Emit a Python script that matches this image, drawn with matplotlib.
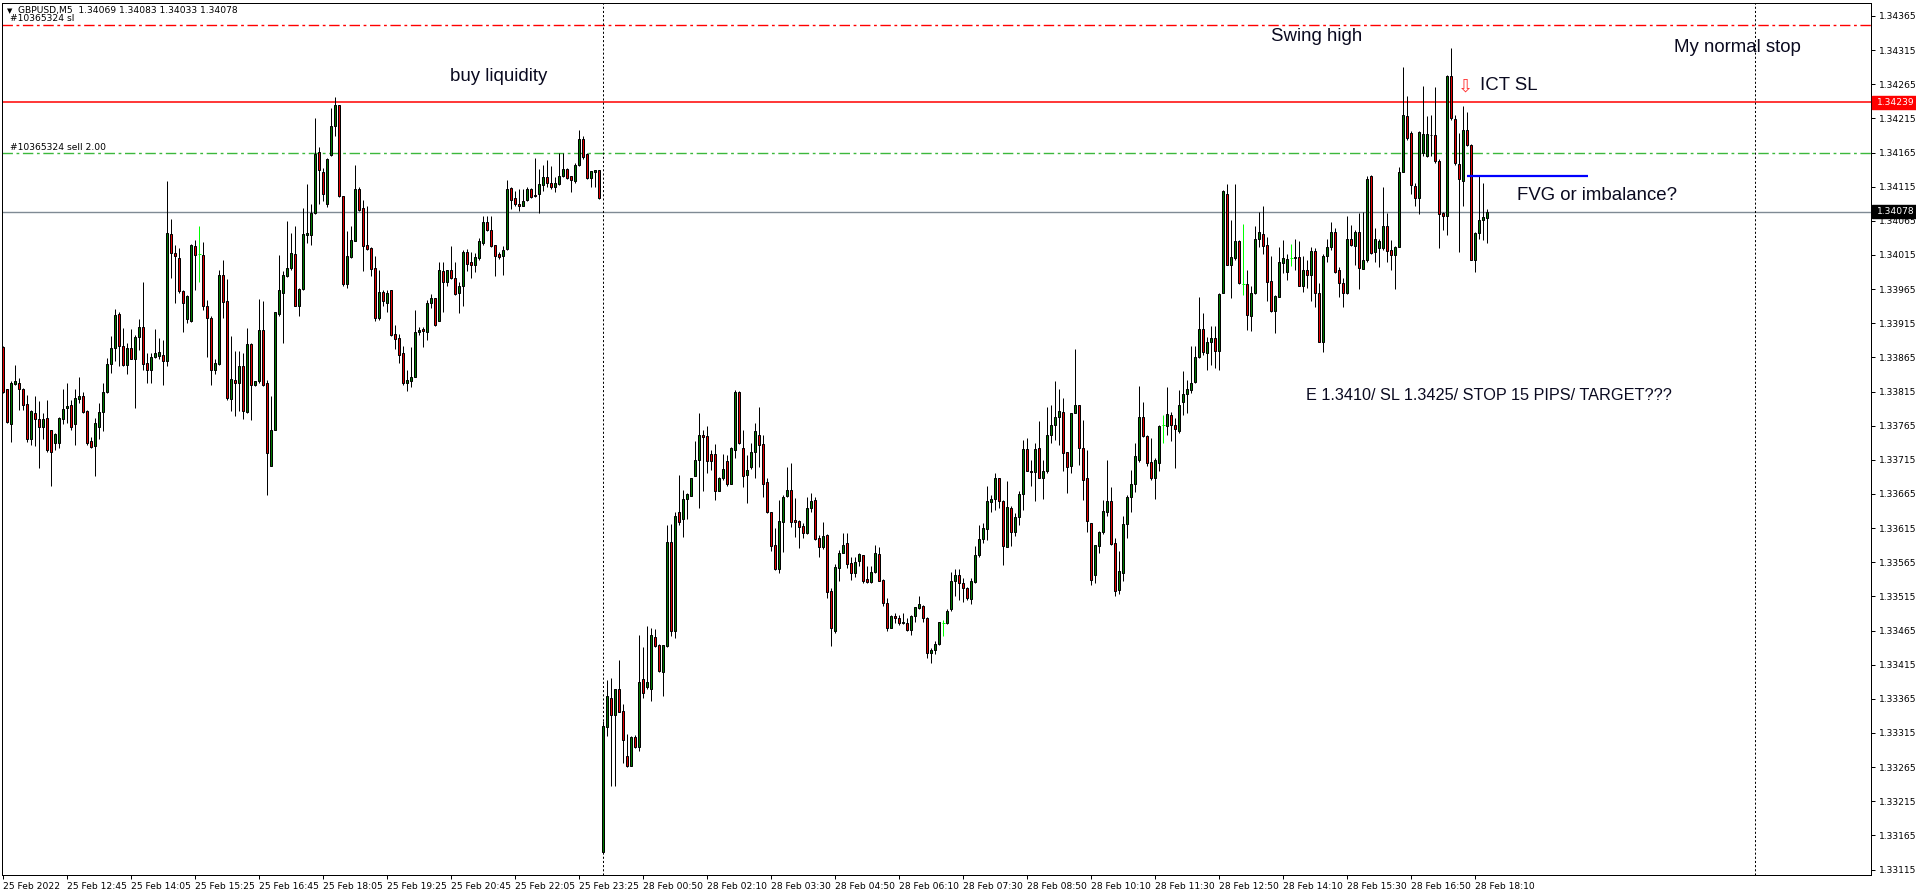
import numpy as np
import matplotlib
matplotlib.use("Agg")
import matplotlib.pyplot as plt
from matplotlib.patches import Rectangle
from matplotlib.transforms import blended_transform_factory

plt.rcParams['lines.scale_dashes'] = False

# GBPUSD M5 bars, prices in points above 1.33000 (1 point = 0.00001)
# 25 Feb 11:25 .. 23:50 (bars 0-149), 28 Feb 00:00 .. 18:25 (bars 150-371)
opens = [
    880, 818, 767, 826, 827, 818, 797, 746, 784, 775,
    763, 776, 758, 739, 739, 775, 791, 796, 767, 804,
    809, 786, 742, 735, 763, 785, 814, 856, 879, 929,
    881, 854, 879, 863, 895, 909, 857, 847, 866, 867,
    869, 859, 1045, 1018, 1011, 962, 921, 918, 1028, 1016,
    1015, 941, 923, 846, 856, 985, 947, 804, 832, 827,
    853, 785, 884, 824, 830, 905, 827, 706, 759, 928,
    960, 984, 996, 1017, 941,
    965, 1044, 1044, 1076, 1166, 1137, 1089, 1161, 1204, 1235,
    1101, 973, 1012, 1036, 1111, 1084, 1029, 1025, 996, 922,
    961, 945, 963, 899, 893, 871, 827, 831, 837, 902,
    907, 902, 945, 952, 919, 991, 976, 993, 981, 959,
    969, 1019, 1004, 1000, 1011, 1033, 1063, 1051, 1029, 1017,
    1013, 1024, 1113, 1098, 1090, 1087, 1095, 1112, 1103, 1105,
    1117, 1129, 1120, 1114, 1119, 1130, 1141, 1131, 1124, 1147,
    1185, 1163, 1128, 1137, 1139,
    141, 324, 366, 342, 379, 347, 281, 267, 309, 295,
    394, 382, 380, 455, 444, 405, 443, 594, 465, 638,
    628, 657, 662, 692, 715, 751, 750, 723, 724, 670,
    688, 713, 680, 730, 814, 732, 693, 705, 727, 751,
    738, 682, 638, 591, 555, 624, 662, 671, 627, 626,
    618, 608, 644, 656, 600, 587, 605, 523, 464, 556,
    579, 593, 564, 549, 567, 576, 540, 536, 550, 577,
    539, 505, 469, 487, 484, 476,
    476, 466, 486, 498, 501, 483, 432, 436, 445, 476,
    476, 496, 538, 547, 534, 528, 511, 536, 576, 599,
    614, 653, 657, 688, 655, 588, 644, 610, 632, 665,
    731, 699, 697, 733, 688, 698, 751, 766, 777, 785,
    726, 706, 783, 795, 733, 689, 622, 547, 589, 609,
    639, 655, 593, 525, 549, 621, 660, 679, 715, 777,
    750, 712, 689, 711, 766, 765, 781, 766, 757, 800,
    812, 817, 829, 866,
    907, 872, 888, 893, 875, 960, 1104, 1000, 1010, 1036,
    972, 972, 926, 959, 1038, 1046, 1030, 977, 933, 954,
    1003, 990, 1010, 1012, 1012, 969, 993, 986, 1021, 960,
    888, 1014, 1026, 1049, 993, 974, 959, 1038, 1028, 1049,
    995, 1008, 1131, 1020, 1025, 1025, 1057, 1022, 1015, 1027,
    1137, 1219, 1194, 1116, 1098, 1165, 1160, 1191, 1190, 1153,
    1076, 1072, 1277, 1214, 1148, 1123, 1198, 1176, 1008, 1047,
    1066, 1069,
]
highs = [
    881, 819, 830, 854, 835, 820, 810, 788, 809, 801,
    784, 802, 759, 754, 777, 818, 828, 803, 818, 837,
    815, 788, 749, 776, 798, 828, 864, 896, 936, 932,
    908, 886, 907, 898, 921, 976, 871, 871, 907, 894,
    891, 1124, 1067, 1030, 1025, 964, 956, 1031, 1037, 1058,
    1034, 949, 926, 862, 993, 1008, 980, 896, 874, 874,
    871, 908, 886, 831, 951, 947, 832, 808, 932, 1015,
    991, 1065, 1047, 1057, 967,
    1084, 1119, 1089, 1215, 1173, 1142, 1157, 1230, 1247, 1235,
    1102, 1050, 1058, 1147, 1115, 1096, 1086, 1027, 1013, 993,
    964, 964, 964, 913, 899, 881, 847, 880, 934, 910,
    910, 949, 958, 952, 1004, 1004, 993, 1028, 1004, 976,
    1023, 1024, 1019, 1018, 1040, 1072, 1072, 1072, 1030, 1020,
    1028, 1125, 1115, 1108, 1111, 1112, 1114, 1113, 1157, 1141,
    1147, 1154, 1145, 1129, 1165, 1164, 1142, 1131, 1149, 1198,
    1189, 1165, 1138, 1140, 1140,
    332, 393, 395, 380, 422, 358, 314, 311, 312, 459,
    441, 471, 468, 467, 446, 444, 620, 621, 638, 693,
    671, 666, 689, 742, 783, 759, 765, 729, 738, 690,
    723, 722, 734, 817, 816, 759, 722, 739, 769, 793,
    752, 689, 639, 615, 656, 663, 704, 710, 659, 627,
    622, 660, 667, 661, 605, 624, 607, 527, 562, 583,
    608, 608, 573, 573, 579, 576, 560, 559, 590, 588,
    540, 512, 488, 490, 488, 490,
    483, 488, 500, 515, 503, 485, 440, 450, 478, 481,
    496, 550, 555, 555, 542, 529, 542, 589, 620, 622,
    677, 663, 696, 688, 656, 684, 647, 637, 669, 744,
    747, 715, 739, 772, 715, 793, 795, 830, 818, 806,
    727, 783, 877, 795, 774, 729, 623, 591, 611, 656,
    715, 675, 600, 581, 633, 663, 700, 739, 823, 800,
    751, 747, 717, 766, 780, 822, 785, 776, 817, 845,
    832, 882, 881, 954,
    930, 895, 911, 911, 959, 1110, 1119, 1066, 1119, 1037,
    1061, 993, 969, 1057, 1078, 1086, 1042, 1013, 956, 1027,
    1037, 1017, 1031, 1039, 1035, 1014, 1008, 1027, 1025, 974,
    1017, 1039, 1064, 1054, 998, 981, 1072, 1059, 1052, 1076,
    1078, 1130, 1132, 1054, 1039, 1115, 1076, 1037, 1028, 1144,
    1290, 1248, 1196, 1120, 1196, 1262, 1218, 1220, 1261, 1156,
    1078, 1279, 1318, 1220, 1193, 1233, 1225, 1177, 1048, 1130,
    1121, 1083,
]
lows = [
    813, 769, 741, 825, 788, 788, 741, 736, 735, 703,
    745, 727, 676, 730, 732, 767, 769, 759, 737, 798,
    784, 737, 732, 691, 745, 757, 813, 842, 859, 852,
    852, 841, 862, 791, 876, 847, 828, 828, 864, 862,
    825, 852, 981, 945, 959, 902, 916, 917, 964, 975,
    935, 866, 824, 840, 854, 923, 803, 786, 779, 786,
    775, 784, 774, 823, 828, 823, 664, 706, 759, 925,
    886, 983, 993, 941, 925,
    964, 1033, 1030, 1075, 1089, 1094, 1085, 1160, 1189, 1100,
    970, 966, 1011, 1035, 1080, 992, 1023, 984, 918, 920,
    940, 931, 897, 878, 857, 825, 816, 821, 836, 898,
    880, 891, 938, 911, 919, 931, 969, 980, 957, 930,
    941, 991, 981, 990, 1008, 1030, 1050, 1026, 984, 1009,
    986, 1023, 1082, 1086, 1079, 1086, 1094, 1098, 1100, 1076,
    1108, 1115, 1111, 1107, 1118, 1129, 1126, 1107, 1121, 1146,
    1156, 1126, 1114, 1114, 1097,
    140, 310, 237, 237, 345, 271, 265, 267, 293, 289,
    366, 380, 362, 441, 405, 369, 441, 457, 454, 620,
    602, 628, 662, 691, 645, 670, 696, 700, 656, 670,
    686, 677, 680, 717, 738, 675, 652, 702, 689, 705,
    661, 637, 582, 554, 549, 580, 661, 617, 602, 586,
    600, 607, 638, 597, 573, 585, 513, 443, 462, 538,
    578, 557, 539, 543, 559, 534, 535, 534, 549, 537,
    501, 464, 468, 476, 473, 474,
    465, 459, 478, 496, 478, 425, 418, 430, 444, 457,
    475, 494, 516, 510, 507, 510, 504, 535, 572, 593,
    598, 638, 641, 644, 561, 587, 589, 604, 620, 641,
    698, 676, 655, 688, 657, 696, 739, 744, 737, 699,
    667, 696, 783, 707, 656, 610, 532, 535, 578, 607,
    633, 590, 515, 518, 537, 600, 638, 668, 712, 748,
    706, 686, 657, 698, 739, 751, 743, 703, 755, 781,
    783, 813, 827, 864,
    869, 847, 854, 849, 847, 959, 1000, 952, 1008, 973,
    956, 905, 903, 958, 1027, 1017, 948, 932, 900, 953,
    988, 979, 999, 993, 969, 961, 966, 948, 939, 887,
    873, 1005, 1023, 988, 954, 939, 958, 1028, 1000, 965,
    994, 1005, 1017, 1005, 998, 1023, 1005, 993, 965, 1026,
    1136, 1183, 1104, 1087, 1075, 1160, 1158, 1160, 1150, 1025,
    1052, 1044, 1213, 1147, 1020, 1086, 1175, 1007, 990, 1038,
    1037, 1033,
]
closes = [
    815, 771, 828, 831, 818, 796, 746, 786, 775, 763,
    775, 729, 727, 753, 776, 790, 794, 763, 806, 809,
    785, 740, 734, 769, 785, 814, 856, 879, 927, 881,
    854, 879, 863, 895, 909, 856, 847, 866, 871, 873,
    859, 1047, 1018, 1013, 962, 945, 955, 1029, 1015, 1016,
    941, 923, 846, 857, 985, 946, 806, 833, 828, 853,
    786, 884, 825, 831, 905, 825, 725, 758, 931, 964,
    985, 996, 1018, 941, 965,
    1045, 1047, 1076, 1163, 1139, 1104, 1156, 1204, 1235, 1101,
    972, 1013, 1037, 1111, 1081, 1028, 1024, 995, 922, 961,
    947, 959, 898, 892, 869, 827, 832, 836, 902, 905,
    903, 945, 952, 912, 993, 976, 993, 981, 958, 970,
    1019, 1002, 1000, 1012, 1035, 1063, 1051, 1028, 1014, 1012,
    1022, 1112, 1096, 1090, 1086, 1094, 1112, 1100, 1101, 1119,
    1129, 1120, 1115, 1120, 1131, 1141, 1127, 1125, 1147, 1185,
    1158, 1127, 1138, 1139, 1098,
    325, 369, 341, 379, 346, 304, 267, 309, 295, 389,
    373, 389, 458, 442, 406, 444, 595, 465, 633, 624,
    657, 665, 688, 715, 752, 749, 714, 714, 670, 689,
    702, 680, 732, 814, 740, 692, 700, 726, 757, 737,
    679, 638, 589, 555, 625, 661, 671, 624, 624, 617,
    608, 644, 655, 599, 587, 604, 521, 468, 558, 579,
    590, 562, 549, 566, 577, 538, 536, 551, 578, 538,
    506, 469, 487, 484, 476, 477,
    466, 487, 499, 504, 483, 432, 436, 445, 477, 476,
    494, 538, 547, 534, 528, 512, 538, 576, 599, 615,
    655, 658, 688, 654, 589, 646, 610, 632, 665, 731,
    699, 697, 731, 689, 699, 752, 766, 778, 787, 725,
    705, 783, 795, 733, 686, 625, 539, 590, 609, 640,
    655, 592, 523, 552, 621, 661, 679, 721, 777, 750,
    710, 688, 715, 765, 766, 782, 766, 760, 795, 812,
    819, 827, 865, 906,
    873, 888, 894, 875, 958, 1109, 1000, 1012, 1036, 974,
    972, 927, 960, 1038, 1048, 1028, 976, 933, 955, 1004,
    1010, 1009, 1010, 1011, 970, 993, 986, 1021, 959, 887,
    1014, 1027, 1048, 990, 974, 959, 1038, 1030, 1048, 996,
    1008, 1126, 1018, 1039, 1035, 1058, 1021, 1015, 1027, 1137,
    1220, 1186, 1118, 1098, 1195, 1192, 1192, 1190, 1152, 1075,
    1072, 1277, 1215, 1149, 1126, 1198, 1176, 1008, 1047, 1066,
    1070, 1078,
]

time_ticks = list(range(0, 369, 16))
time_labels = [
    "25 Feb 2022", "25 Feb 12:45", "25 Feb 14:05", "25 Feb 15:25",
    "25 Feb 16:45", "25 Feb 18:05", "25 Feb 19:25", "25 Feb 20:45",
    "25 Feb 22:05", "25 Feb 23:25", "28 Feb 00:50", "28 Feb 02:10",
    "28 Feb 03:30", "28 Feb 04:50", "28 Feb 06:10", "28 Feb 07:30",
    "28 Feb 08:50", "28 Feb 10:10", "28 Feb 11:30", "28 Feb 12:50",
    "28 Feb 14:10", "28 Feb 15:30", "28 Feb 16:50", "28 Feb 18:10",
]
price_labels = [
    "1.33115", "1.33165", "1.33215", "1.33265", "1.33315", "1.33365",
    "1.33415", "1.33465", "1.33515", "1.33565", "1.33615", "1.33665",
    "1.33715", "1.33765", "1.33815", "1.33865", "1.33915", "1.33965",
    "1.34015", "1.34065", "1.34115", "1.34165", "1.34215", "1.34265",
    "1.34315", "1.34365",
]

sl_price = 1.34352
ict_sl = 1.34239
entry_price = 1.34164
bid_price = 1.34078
fvg_price = 1.34130
day_breaks = [150, 438]

o = 1.33 + np.array(opens) / 1e5
h = 1.33 + np.array(highs) / 1e5
l = 1.33 + np.array(lows) / 1e5
c = 1.33 + np.array(closes) / 1e5
idx = np.arange(len(o))

W, H = 1916, 896
fig = plt.figure(figsize=(W / 100, H / 100), dpi=100)
ax = fig.add_axes([2 / W, 21 / H, 1869 / W, 872 / H])
ax.set_xlim(-0.33, 466.9)
ax.set_ylim(1.33107, 1.34384)

px = 0.72  # one pixel in points

up = c > o
dn = c < o
flat = ~(up | dn)

ax.vlines(idx[~flat], l[~flat], h[~flat], color="black", lw=px, zorder=3)
ax.vlines(idx[flat], l[flat], h[flat], color="#00ff00", lw=px, zorder=3)
ax.hlines(o[flat], idx[flat] - 0.4, idx[flat] + 0.4, color="#00ff00", lw=px, zorder=3)
ax.bar(idx[up], (c - o)[up], bottom=o[up], width=0.55, color="#007800",
       edgecolor="black", linewidth=px, zorder=4)
ax.bar(idx[dn], (o - c)[dn], bottom=c[dn], width=0.55, color="#e00000",
       edgecolor="black", linewidth=px, zorder=4)

# order / price lines
dashdot = (0, (7.5, 2.6, 2.0, 2.6))
ax.axhline(sl_price, color="#ff0000", lw=1.0, ls=dashdot, zorder=2)
ax.axhline(entry_price, color="#3cb83c", lw=1.0, ls=dashdot, zorder=2)
ax.axhline(ict_sl, color="#ff0000", lw=1.1, zorder=2)
ax.axhline(bid_price, color="#7f8a94", lw=1.0, zorder=2)
for d in day_breaks:
    ax.axvline(d, color="black", lw=px, ls=(0, (1.5, 1.5)), zorder=2)
ax.hlines(fvg_price, 366, 396.2, color="#0000ff", lw=1.6, zorder=5)

# chart texts
tf = dict(family="Liberation Sans", fontsize=13.4, color="#0a0a20")
ax.text(111.7, 1.34270, "buy liquidity", ha="left", va="baseline", **tf)
ax.text(317, 1.34328, "Swing high", ha="left", va="baseline", **tf)
ax.text(417.7, 1.34312, "My normal stop", ha="left", va="baseline", **tf)
ax.text(369.2, 1.34256, "ICT SL", ha="left", va="baseline", **tf)
ax.text(378.4, 1.34095, "FVG or imbalance?", ha="left", va="baseline", **tf)
ax.text(325.7, 1.33803, "E 1.3410/ SL 1.3425/ STOP 15 PIPS/ TARGET???",
        ha="left", va="baseline", family="Liberation Sans", fontsize=11.7,
        color="#0a0a20")
ax.text(365.4, 1.34261, "\u21e9", ha="center", va="center", fontsize=13,
        color="#ff3030", family="DejaVu Sans", zorder=6)

sf = dict(family="DejaVu Sans", fontsize=6.6, color="black")
fig.text(18 / W, 1 - 11 / H, "GBPUSD,M5  1.34069 1.34083 1.34033 1.34078",
         va="center", ha="left", **sf)
fig.text(7 / W, 1 - 11 / H, "\u25bc", va="center", ha="left",
         family="DejaVu Sans", fontsize=5, color="black")
fig.text(10 / W, 1 - 18.5 / H, "#10365324 sl", va="center", ha="left", **sf)
fig.text(10 / W, 1 - 147 / H, "#10365324 sell 2.00", va="center", ha="left", **sf)

# axes / ticks
for s in ax.spines.values():
    s.set_linewidth(px)
    s.set_color("black")
ax.yaxis.tick_right()
ax.set_yticks([float(v) for v in price_labels])
ax.set_yticklabels(price_labels)
ax.set_xticks(time_ticks)
ax.set_xticklabels(time_labels)
for lab in ax.get_xticklabels():
    lab.set_ha("left")
ax.tick_params(axis="both", direction="out", length=3, width=px,
               labelsize=6.6, pad=2)
ax.tick_params(axis="y", pad=3)

# right scale price boxes
tr = blended_transform_factory(fig.transFigure, ax.transData)
box_h = 13 / 68280
for p, fc in [(ict_sl, "#ff0000"), (bid_price, "#000000")]:
    ax.add_patch(Rectangle((1872 / W, p - box_h / 2), 44 / W, box_h,
                           transform=tr, facecolor=fc, edgecolor=fc,
                           clip_on=False, zorder=10))
    ax.text(1877 / W, p, f"{p:.5f}", transform=tr, va="center", ha="left",
            color="white", family="DejaVu Sans", fontsize=6.6, zorder=11,
            clip_on=False)

fig.savefig("out.png", dpi=100, facecolor="white")
